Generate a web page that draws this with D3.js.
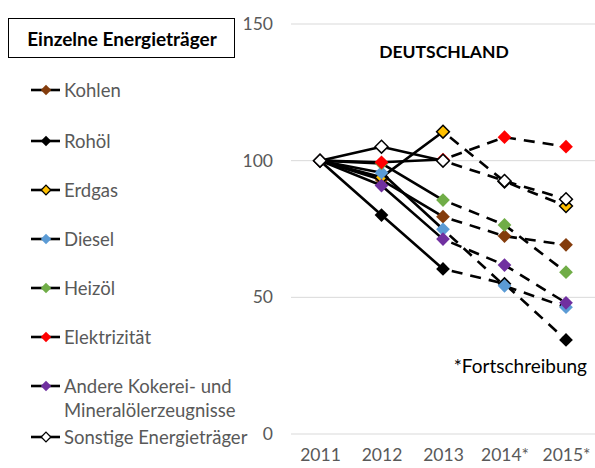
<!DOCTYPE html>
<html><head><meta charset="utf-8">
<script src="https://cdn.jsdelivr.net/npm/d3@7"></script>
<style>
body{margin:0;background:#fff;}
svg{display:block;font-family:Lato,"Open Sans",sans-serif;}
</style></head>
<body><svg id="chart" width="595" height="468"></svg>
<script>
const years = ["2011","2012","2013","2014*","2015*"];
const seriesNames = ["Kohlen","Rohöl","Erdgas","Diesel","Heizöl","Elektrizität","Andere Kokerei- und\nMineralölerzeugnisse","Sonstige Energieträger"];
const seriesColors = ["#843C0C","#000000","#FFC000","#5B9BD5","#70AD47","#FF0000","#7030A0","#FFFFFF"];
const kohlen   = [100, 93.0, 79.5, 72.4, 69.2];
const rohoel   = [100, 80.1, 60.4, 55.0, 34.4];
const erdgas   = [100, 93.9, 110.6, 92.4, 83.4];
const diesel   = [100, 95.6, 74.9, 54.2, 46.4];
const heizoel  = [100, 99.0, 85.6, 76.5, 59.2];
const strom    = [100, 99.4, 100.4, 108.6, 105.1];
const andere   = [100, 90.9, 71.3, 61.8, 48.0];
const sonstige = [100, 105.1, 100.0, 92.6, 85.9];
const yTicks = [0, 50, 100, 150];

const seriesValues = [kohlen, rohoel, erdgas, diesel, heizoel, strom, andere, sonstige];
const stroked = [false,false,true,false,false,false,false,true];

const svg = d3.select("#chart");
const x = d3.scalePoint().domain(years).range([320, 566]);
const y = d3.scaleLinear().domain([0,150]).range([434, 24]);
const grey = "#595959";

// gridlines
svg.append("g").selectAll("line").data(yTicks).join("line")
  .attr("x1", 291).attr("x2", 595)
  .attr("y1", d=>y(d)).attr("y2", d=>y(d))
  .attr("stroke", "#d9d9d9").attr("stroke-width", 1);

// y axis
const yAxis = svg.append("g").attr("transform","translate(273,0)")
  .call(d3.axisLeft(y).tickValues(yTicks).tickSize(0).tickPadding(0));
yAxis.select(".domain").remove();
yAxis.selectAll("text").attr("fill", grey).style("font-size","17.5px").style("font-family","Lato,sans-serif");

// x axis
const xAxis = svg.append("g").attr("transform","translate(0,449)")
  .call(d3.axisBottom(x).tickSize(0).tickPadding(0));
xAxis.select(".domain").remove();
xAxis.selectAll("text").attr("fill", grey).style("font-size","17.5px").style("font-family","Lato,sans-serif");

// title
svg.append("text").attr("x", 444).attr("y", 58).attr("text-anchor","middle")
  .style("font-size","17.5px").style("font-weight","bold").attr("fill","#000").text("DEUTSCHLAND");

const diamond = d3.symbol().type(d3.symbolDiamond2);
const lineSolid = d3.line().x(d=>x(d.year)).y(d=>y(d.v));

seriesValues.forEach((vals, i) => {
  const pts = vals.map((v,j)=>({year: years[j], v}));
  const g = svg.append("g");
  g.append("path").datum(pts.slice(0,3)).attr("d", lineSolid)
    .attr("fill","none").attr("stroke","#000").attr("stroke-width",2.6).attr("stroke-linejoin","round");
  g.append("path").datum(pts.slice(2)).attr("d", lineSolid)
    .attr("fill","none").attr("stroke","#000").attr("stroke-width",2.6)
    .attr("stroke-dasharray","11,8").attr("stroke-dashoffset", -9);
  g.selectAll("path.m").data(pts).join("path").attr("class","m")
    .attr("transform", d=>`translate(${x(d.year)},${y(d.v)})`)
    .attr("d", diamond.size(stroked[i] ? 105 : 120))
    .attr("fill", seriesColors[i])
    .attr("stroke", stroked[i] ? "#000" : "none").attr("stroke-width", 1.5);
});

// Fortschreibung note
svg.append("text").attr("x", 587).attr("y", 373).attr("text-anchor","end")
  .style("font-size","19px").attr("fill","#000").text("*Fortschreibung");

// legend
svg.append("rect").attr("x", 8.5).attr("y", 18.5).attr("width", 226).attr("height", 39)
  .attr("fill","#fff").attr("stroke","#000").attr("stroke-width",1);
svg.append("text").attr("x", 122).attr("y", 45.5).attr("text-anchor","middle")
  .style("font-size","19px").style("font-weight","bold").attr("fill","#000").text("Einzelne Energieträger");

const legendY = [90, 141, 190, 239, 288, 337, 386, 437];
seriesNames.forEach((name, i) => {
  const ly = legendY[i];
  const lg = svg.append("g");
  lg.append("line").attr("x1", 31).attr("x2", 60).attr("y1", ly).attr("y2", ly)
    .attr("stroke","#000").attr("stroke-width",2.6);
  lg.append("path").attr("transform",`translate(46,${ly})`)
    .attr("d", diamond.size(stroked[i] ? 60 : 70))
    .attr("fill", seriesColors[i]).attr("stroke", stroked[i] ? "#000" : "none").attr("stroke-width",1.3);
  const lines = name.split("\n");
  lines.forEach((t, k) => {
    lg.append("text").attr("x", 64).attr("y", ly + 6.5 + k*24)
      .style("font-size","18.5px").attr("fill", grey).text(t);
  });
});
</script></body></html>
